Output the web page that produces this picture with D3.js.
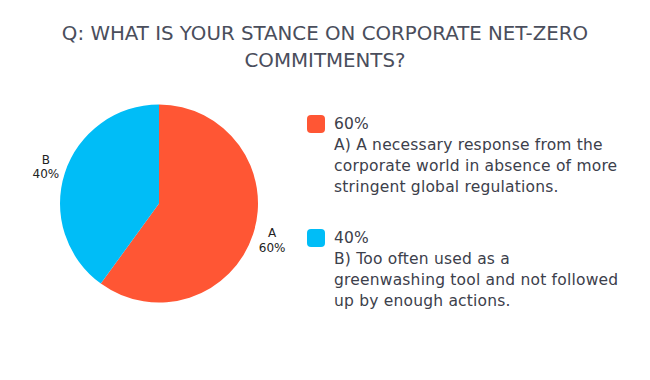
<!DOCTYPE html>
<html>
<head>
<meta charset="utf-8">
<script src="https://cdn.jsdelivr.net/npm/d3@7"></script>
<style>
  body { margin: 0; background: #fff; }
  svg { display: block; font-family: "DejaVu Sans", sans-serif; }
</style>
</head>
<body>
<div id="chart"></div>
<script>
// Chart data
const titleLines = ["Q: WHAT IS YOUR STANCE ON CORPORATE NET-ZERO", "COMMITMENTS?"];
const categories = ["A", "B"];
const shares = [60, 40];
const colors = ["#FF5634", "#00BDF7"];
const legendLines = [
    ["A) A necessary response from the", "corporate world in absence of more", "stringent global regulations."],
    ["B) Too often used as a", "greenwashing tool and not followed", "up by enough actions."]
];

const width = 650, height = 380;
const svg = d3.select("#chart").append("svg")
    .attr("width", width)
    .attr("height", height);

// Title
const title = svg.append("g").attr("fill", "#4a4e5c");
titleLines.forEach((line, i) => {
    title.append("text")
        .attr("x", 325)
        .attr("y", 40 + i * 27)
        .attr("text-anchor", "middle")
        .attr("font-size", "19.8px")
        .text(line);
});

// Pie
const cx = 159, cy = 203.5, radius = 99;
const pie = d3.pie().sort(null).value(d => d.value);
const arcs = pie(categories.map((c, i) => ({ name: c, value: shares[i], color: colors[i] })));
const arc = d3.arc().innerRadius(0).outerRadius(radius);
const labelArc = d3.arc().innerRadius(119).outerRadius(119);

const g = svg.append("g").attr("transform", `translate(${cx},${cy})`);
g.selectAll("path")
    .data(arcs)
    .enter()
    .append("path")
    .attr("d", arc)
    .attr("fill", d => d.data.color);

const labels = g.selectAll("text.lbl")
    .data(arcs)
    .enter()
    .append("text")
    .attr("class", "lbl")
    .attr("text-anchor", "middle")
    .attr("font-size", "12px")
    .attr("fill", "#222")
    .attr("transform", d => `translate(${labelArc.centroid(d)})`);
labels.append("tspan").attr("x", 0).attr("dy", "-0.25em").text(d => d.data.name);
labels.append("tspan").attr("x", 0).attr("dy", "1.2em").text(d => d.data.value + "%");

// Legend
const legend = svg.append("g");
arcs.forEach((d, i) => {
    const top = 115 + i * 114;
    legend.append("rect")
        .attr("x", 307)
        .attr("y", top)
        .attr("width", 18)
        .attr("height", 18)
        .attr("rx", 4)
        .attr("fill", d.data.color);
    const lines = [d.data.value + "%"].concat(legendLines[i]);
    lines.forEach((t, j) => {
        legend.append("text")
            .attr("x", 334)
            .attr("y", top + 14 + j * 21)
            .attr("font-size", "15.5px")
            .attr("letter-spacing", "0.2px")
            .attr("fill", "#3c404b")
            .text(t);
    });
});
</script>
</body>
</html>
